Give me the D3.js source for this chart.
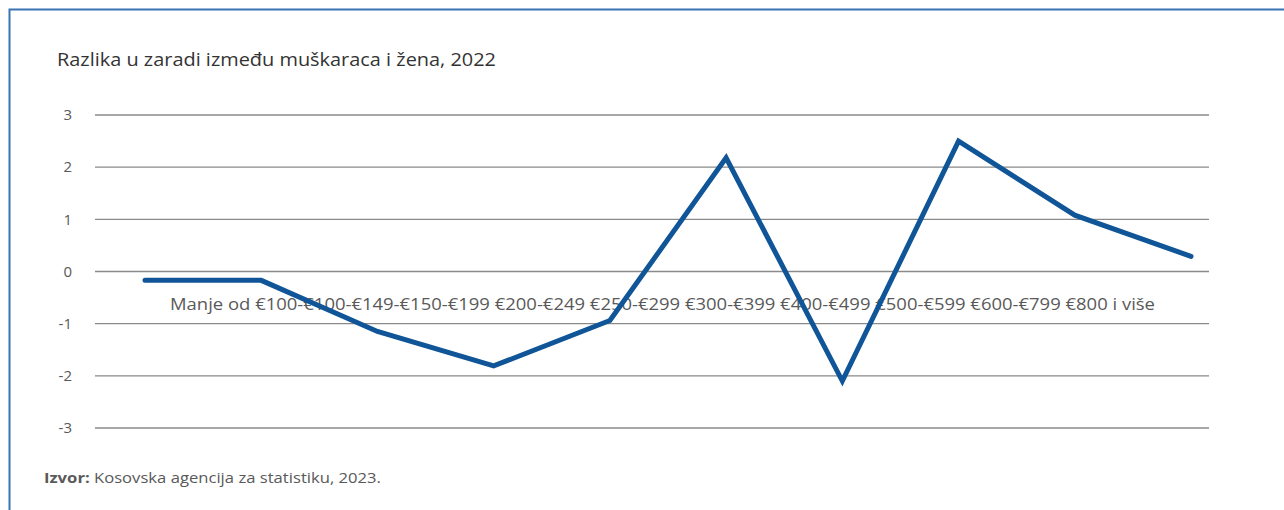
<!DOCTYPE html>
<html>
<head>
<meta charset="utf-8">
<script src="https://cdn.jsdelivr.net/npm/d3@7"></script>
<style>
  html, body { margin: 0; padding: 0; background: #fff; }
  svg { display: block; font-family: "Open Sans", sans-serif; }
</style>
</head>
<body>
<svg id="chart" width="1284" height="510"></svg>
<script>
"use strict"

// kategorije plata
const categories = [
    "Manje od €100", "€100-€149", "€150-€199", "€200-€249", "€250-€299",
    "€300-€399", "€400-€499", "€500-€599", "€600-€799", "€800 i više"
]
// kako se labele spajaju na slici (neke sa crticom)
const separators = ["-", "-", " ", " ", " ", " ", " ", " ", " ", ""]
const values = [-0.17, -0.17, -1.15, -1.81, -0.94, 2.18, -2.1, 2.5, 1.08, 0.29]
const yTicks = [-3, -2, -1, 0, 1, 2, 3]

const title = "Razlika u zaradi između muškaraca i žena, 2022"
const sourceBold = "Izvor:"
const sourceText = " Kosovska agencija za statistiku, 2023."

const svg = d3.select("#chart")

// okvir (gore i lijevo)
svg.append("path")
    .attr("d", "M9.5,510 V9.5 H1284")
    .attr("fill", "none")
    .attr("stroke", "#3a74b3")
    .attr("stroke-width", 2)

const left = 95, right = 1209
const x = d3.scalePoint().domain(categories).range([145, 1191])
const y = d3.scaleLinear().domain([-3, 3]).range([428, 115])

svg.append("text")
    .attr("x", 57).attr("y", 66)
    .attr("font-size", 18.5)
    .attr("fill", "#333")
    .attr("textLength", 439)
    .attr("lengthAdjust", "spacingAndGlyphs")
    .text(title)

// mreža
svg.append("g")
    .selectAll("line")
    .data(yTicks)
    .join("line")
    .attr("x1", left).attr("x2", right)
    .attr("y1", d => y(d)).attr("y2", d => y(d))
    .attr("stroke", "#8a8a8a")
    .attr("stroke-width", 1.3)

svg.append("g")
    .selectAll("text")
    .data(yTicks)
    .join("text")
    .attr("x", 72)
    .attr("y", d => y(d))
    .attr("dy", "0.35em")
    .attr("text-anchor", "end")
    .attr("font-size", 15)
    .attr("fill", "#595959")
    .text(d => d)

// labele x ose - na slici su sve u jednom redu
const xl = svg.append("text")
    .attr("x", 170).attr("y", 310)
    .attr("font-size", 17)
    .attr("fill", "#595959")
    .attr("textLength", 985)
    .attr("lengthAdjust", "spacingAndGlyphs")
xl.selectAll("tspan")
    .data(categories)
    .join("tspan")
    .text((d, i) => d + separators[i])

const line = d3.line()
    .x((d, i) => x(categories[i]))
    .y(d => y(d))

svg.append("path")
    .datum(values)
    .attr("d", line)
    .attr("fill", "none")
    .attr("stroke", "#0f5597")
    .attr("stroke-width", 5)
    .attr("stroke-linejoin", "miter")
    .attr("stroke-linecap", "round")

const src = svg.append("text")
    .attr("x", 44).attr("y", 483)
    .attr("font-size", 15)
    .attr("fill", "#595959")
    .attr("textLength", 337)
    .attr("lengthAdjust", "spacingAndGlyphs")
src.append("tspan").attr("font-weight", "bold").text(sourceBold)
src.append("tspan").text(sourceText)
</script>
</body>
</html>
